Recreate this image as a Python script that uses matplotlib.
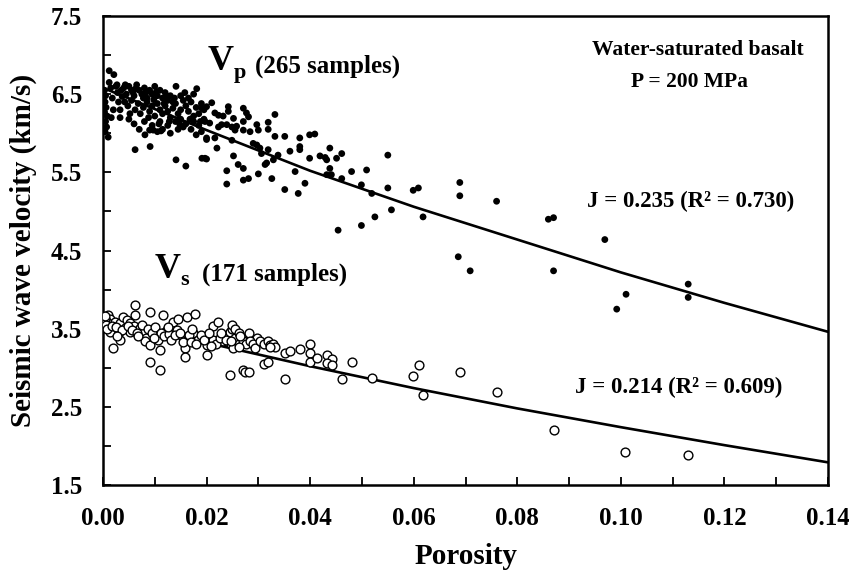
import matplotlib
matplotlib.use("Agg")
import matplotlib.pyplot as plt
from matplotlib.ticker import MultipleLocator

plt.rcParams["font.family"] = ["Liberation Serif", "DejaVu Serif"]
plt.rcParams["font.weight"] = "bold"

# fitted curves
fit_porosity = [0.00, 0.02, 0.04, 0.06, 0.08, 0.10, 0.12, 0.14]
vp_fit = [6.58, 6.04, 5.52, 5.06, 4.64, 4.22, 3.83, 3.46]
vs_fit = [3.66, 3.32, 3.02, 2.74, 2.48, 2.24, 2.01, 1.79]

# Vp samples (porosity, km/s)
vp_dense = [
    (0.0003, 6.55), (0.0005, 6.48), (0.0004, 6.40), (0.0006, 6.33), (0.0003, 6.27), (0.0008, 6.22),
    (0.0005, 6.15), (0.0007, 6.08), (0.0004, 6.02), (0.0010, 5.95), (0.0012, 6.80), (0.0021, 6.75),
    (0.0012, 6.65), (0.0015, 6.58), (0.0018, 6.45), (0.0020, 6.30), (0.0016, 6.20), (0.0025, 6.60),
    (0.0028, 6.52), (0.0030, 6.40), (0.0033, 6.20), (0.0035, 6.55), (0.0040, 6.58), (0.0045, 6.50),
    (0.0050, 6.60), (0.0055, 6.55), (0.0060, 6.48), (0.0065, 6.62), (0.0070, 6.55), (0.0075, 6.50),
    (0.0080, 6.58), (0.0085, 6.45), (0.0090, 6.55), (0.0095, 6.50), (0.0100, 6.60), (0.0105, 6.48),
    (0.0110, 6.55), (0.0115, 6.45), (0.0120, 6.52), (0.0125, 6.42), (0.0130, 6.48), (0.0135, 6.40),
    (0.0042, 6.40), (0.0048, 6.35), (0.0055, 6.42), (0.0062, 6.30), (0.0068, 6.38), (0.0072, 6.25),
    (0.0078, 6.33), (0.0085, 6.40), (0.0090, 6.28), (0.0095, 6.35), (0.0100, 6.22), (0.0105, 6.38),
    (0.0110, 6.30), (0.0115, 6.25), (0.0120, 6.35), (0.0125, 6.28), (0.0130, 6.20), (0.0135, 6.32),
    (0.0140, 6.38), (0.0145, 6.25), (0.0150, 6.30), (0.0155, 6.42), (0.0160, 6.35), (0.0165, 6.28),
    (0.0170, 6.40), (0.0175, 6.22), (0.0180, 6.33), (0.0185, 6.25), (0.0190, 6.38), (0.0195, 6.30),
    (0.0050, 6.18), (0.0060, 6.12), (0.0070, 6.05), (0.0080, 6.15), (0.0090, 6.04), (0.0095, 6.10),
    (0.0105, 6.02), (0.0110, 6.15), (0.0115, 6.05), (0.0125, 6.10), (0.0130, 6.00), (0.0140, 6.15),
    (0.0145, 6.05), (0.0150, 6.18), (0.0155, 6.08), (0.0160, 6.12), (0.0170, 6.05), (0.0175, 6.15),
    (0.0180, 5.98), (0.0185, 6.10), (0.0190, 6.02), (0.0195, 6.18), (0.0081, 5.98), (0.0062, 5.79),
    (0.0091, 5.83), (0.0141, 5.66), (0.0160, 5.58), (0.0191, 5.68), (0.0200, 5.67), (0.0200, 5.94),
    (0.0141, 6.60), (0.0158, 6.52), (0.0181, 6.57), (0.0150, 6.48), (0.0165, 6.45), (0.0175, 6.50),
    (0.0037, 6.47), (0.0058, 6.52), (0.0078, 6.45), (0.0098, 6.43), (0.0118, 6.38), (0.0138, 6.45),
    (0.0033, 6.30), (0.0052, 6.25), (0.0088, 6.20), (0.0108, 6.12), (0.0128, 6.15), (0.0148, 6.12),
    (0.0168, 6.18), (0.0188, 6.15), (0.0097, 6.04), (0.0112, 6.03), (0.0027, 6.62), (0.0043, 6.62),
    (0.0063, 6.57), (0.0083, 6.52), (0.0103, 6.53), (0.0123, 6.47),
]
vp_mid = [
    (0.0210, 6.39), (0.0200, 6.34), (0.0191, 6.32), (0.0216, 6.26), (0.0223, 6.23), (0.0232, 6.22),
    (0.0242, 6.34), (0.0242, 6.28), (0.0252, 6.19), (0.0271, 6.32), (0.0277, 6.26), (0.0281, 6.21),
    (0.0271, 6.15), (0.0197, 6.15), (0.0206, 6.13), (0.0223, 6.08), (0.0229, 6.11), (0.0239, 6.11),
    (0.0249, 6.08), (0.0258, 6.09), (0.0255, 6.04), (0.0271, 6.04), (0.0284, 6.02), (0.0297, 6.11),
    (0.0300, 6.04), (0.0319, 6.14), (0.0319, 6.05), (0.0332, 6.24), (0.0200, 5.92), (0.0216, 5.94),
    (0.0220, 5.81), (0.0249, 5.91), (0.0252, 5.71), (0.0290, 5.87), (0.0297, 5.85), (0.0303, 5.81),
    (0.0306, 5.74), (0.0319, 5.79), (0.0332, 5.96), (0.0338, 5.72), (0.0329, 5.66), (0.0316, 5.62),
    (0.0313, 5.60), (0.0351, 5.96), (0.0361, 5.77), (0.0380, 5.94), (0.0380, 5.83), (0.0380, 5.79),
    (0.0399, 5.98), (0.0409, 5.99), (0.0399, 5.68), (0.0419, 5.71), (0.0429, 5.69), (0.0438, 5.81),
    (0.0432, 5.66), (0.0451, 5.68), (0.0461, 5.74), (0.0438, 5.55), (0.0432, 5.47), (0.0441, 5.47),
    (0.0461, 5.42), (0.0480, 5.51), (0.0509, 5.53), (0.0499, 5.34), (0.0519, 5.23), (0.0550, 5.72),
    (0.0550, 5.30), (0.0197, 5.68), (0.0239, 5.52), (0.0261, 5.60), (0.0271, 5.55), (0.0271, 5.40),
    (0.0281, 5.42), (0.0300, 5.48), (0.0326, 5.42), (0.0371, 5.51), (0.0390, 5.36), (0.0377, 5.23),
    (0.0351, 5.28), (0.0239, 5.35), (0.0557, 5.02), (0.0525, 4.93), (0.0499, 4.82), (0.0454, 4.76),
    (0.0599, 5.27), (0.0609, 5.30),
]
vp_tail = [
    (0.0689, 5.37), (0.0689, 5.20), (0.0760, 5.13), (0.0618, 4.93), (0.0860, 4.90), (0.0870, 4.92),
    (0.0969, 4.64), (0.0686, 4.42), (0.0709, 4.24), (0.0870, 4.24), (0.1130, 4.07), (0.1130, 3.90),
    (0.1010, 3.94), (0.0992, 3.75),
]

# Vs samples (porosity, km/s)
vs_dense = [
    (0.0062, 3.80), (0.0091, 3.71), (0.0116, 3.68), (0.0062, 3.68), (0.0010, 3.68), (0.0014, 3.63),
    (0.0007, 3.59), (0.0023, 3.59), (0.0033, 3.57), (0.0039, 3.65), (0.0046, 3.61), (0.0052, 3.57),
    (0.0059, 3.53), (0.0042, 3.51), (0.0030, 3.46), (0.0014, 3.46), (0.0033, 3.36), (0.0020, 3.25),
    (0.0052, 3.46), (0.0071, 3.51), (0.0078, 3.44), (0.0084, 3.38), (0.0081, 3.34), (0.0091, 3.29),
    (0.0104, 3.40), (0.0107, 3.36), (0.0110, 3.23), (0.0120, 3.46), (0.0123, 3.48), (0.0136, 3.59),
    (0.0145, 3.63), (0.0162, 3.65), (0.0178, 3.69), (0.0142, 3.48), (0.0152, 3.40), (0.0162, 3.36),
    (0.0158, 3.25), (0.0158, 3.14), (0.0174, 3.44), (0.0184, 3.36), (0.0200, 3.40), (0.0200, 3.29),
    (0.0200, 3.16), (0.0213, 3.36), (0.0213, 3.53), (0.0223, 3.59), (0.0232, 3.40), (0.0232, 3.34),
    (0.0242, 3.42), (0.0245, 3.46), (0.0248, 3.31), (0.0252, 3.25), (0.0258, 3.40), (0.0268, 3.36),
    (0.0091, 3.08), (0.0110, 2.97),
    (0.0003, 3.62), (0.0005, 3.55), (0.0008, 3.50), (0.0004, 3.66), (0.0018, 3.54), (0.0026, 3.52),
    (0.0036, 3.48), (0.0048, 3.54), (0.0056, 3.48), (0.0066, 3.45), (0.0075, 3.55), (0.0086, 3.50),
    (0.0095, 3.45), (0.0100, 3.52), (0.0112, 3.44), (0.0118, 3.40), (0.0128, 3.43), (0.0132, 3.36),
    (0.0140, 3.42), (0.0148, 3.45), (0.0155, 3.33), (0.0166, 3.42), (0.0170, 3.33), (0.0180, 3.30),
    (0.0190, 3.42), (0.0195, 3.35), (0.0205, 3.45), (0.0218, 3.30), (0.0225, 3.38), (0.0238, 3.36),
    (0.0250, 3.50), (0.0255, 3.38), (0.0262, 3.30), (0.0027, 3.41), (0.0068, 3.40), (0.0098, 3.38),
    (0.0125, 3.52), (0.0172, 3.50), (0.0208, 3.28), (0.0228, 3.45),
]
vs_mid = [
    (0.0281, 3.44), (0.0297, 3.38), (0.0271, 3.34), (0.0277, 3.31), (0.0284, 3.34), (0.0290, 3.31),
    (0.0294, 3.25), (0.0303, 3.34), (0.0310, 3.31), (0.0319, 3.34), (0.0323, 3.29), (0.0329, 3.31),
    (0.0332, 3.27), (0.0323, 3.27), (0.0351, 3.19), (0.0361, 3.21), (0.0380, 3.24), (0.0399, 3.30),
    (0.0399, 3.19), (0.0399, 3.08), (0.0413, 3.12), (0.0432, 3.16), (0.0442, 3.11), (0.0432, 3.06),
    (0.0442, 3.04), (0.0480, 3.07), (0.0461, 2.86), (0.0519, 2.87), (0.0351, 2.85), (0.0310, 3.05),
    (0.0319, 3.08), (0.0271, 2.97), (0.0274, 2.94), (0.0281, 2.95), (0.0245, 2.91), (0.0250, 3.55),
    (0.0255, 3.50), (0.0262, 3.45), (0.0265, 3.40), (0.0248, 3.34), (0.0262, 3.27),
]
vs_tail = [
    (0.0610, 3.04), (0.0599, 2.90), (0.0618, 2.65), (0.0689, 2.94), (0.0760, 2.69), (0.0870, 2.20),
    (0.1008, 1.92), (0.1130, 1.89),
]

vp_pts = vp_dense + vp_mid + vp_tail
vs_pts = vs_dense + vs_mid + vs_tail

fig = plt.figure(figsize=(8.49, 5.77), dpi=100)
ax = fig.add_axes([0.1213, 0.1594, 0.854, 0.8129])

ax.scatter([p for p, v in vp_pts], [v for p, v in vp_pts], s=24, c="black",
           edgecolors="none", zorder=3)
ax.scatter([p for p, v in vs_pts], [v for p, v in vs_pts], s=40, facecolors="white",
           edgecolors="black", linewidths=1.0, zorder=3)
ax.plot(fit_porosity, vp_fit, color="black", lw=1.9, zorder=2)
ax.plot(fit_porosity, vs_fit, color="black", lw=1.9, zorder=2)

ax.set_xlim(0, 0.14)
ax.set_ylim(1.5, 7.5)
ax.xaxis.set_major_locator(MultipleLocator(0.02))
ax.xaxis.set_minor_locator(MultipleLocator(0.01))
ax.set_yticks([1.5, 2.5, 3.5, 4.5, 5.5, 6.5, 7.5])
ax.yaxis.set_minor_locator(MultipleLocator(0.5))
ax.set_xticklabels([f"{t:.2f}" for t in ax.get_xticks()])
ax.set_yticklabels([f"{t:.1f}" for t in ax.get_yticks()])

ax.tick_params(which="both", direction="in", length=6, width=1.3, labelsize=18)
ax.tick_params(axis="x", which="both", pad=16)
ax.tick_params(axis="y", which="both", pad=15)
for sp in ax.spines.values():
    sp.set_linewidth(1.8)

ax.set_xlabel("Porosity", fontsize=21, fontweight="bold", labelpad=9)
ax.set_ylabel("Seismic wave velocity (km/s)", fontsize=21, fontweight="bold", labelpad=10)

# labels for the two clouds
ax.text(0.0203, 6.81, "V", fontsize=26, fontweight="bold")
ax.text(0.0252, 6.71, "p", fontsize=16, fontweight="bold")
ax.text(0.0293, 6.78, "(265 samples)", fontsize=18, fontweight="bold")
ax.text(0.0100, 4.15, "V", fontsize=26, fontweight="bold")
ax.text(0.0150, 4.06, "s", fontsize=16, fontweight="bold")
ax.text(0.0191, 4.12, "(171 samples)", fontsize=18, fontweight="bold")

ax.text(0.1352, 7.00, "Water-saturated basalt", fontsize=15.5, fontweight="bold", ha="right")
ax.text(0.1245, 6.59, "P = 200 MPa", fontsize=15.5, fontweight="bold", ha="right")
ax.text(0.0935, 5.06, "J = 0.235 (R² = 0.730)", fontsize=16.5, fontweight="bold")
ax.text(0.0911, 2.68, "J = 0.214 (R² = 0.609)", fontsize=16.5, fontweight="bold")

fig.savefig("out.png", dpi=100)
